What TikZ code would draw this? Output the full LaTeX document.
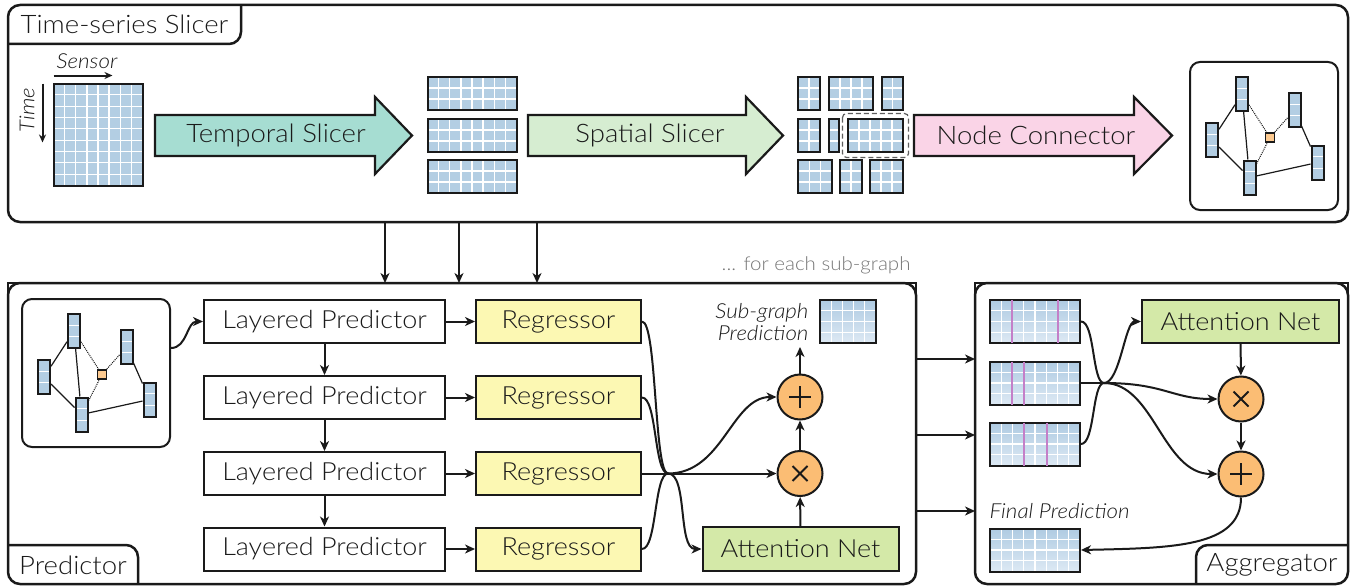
\documentclass[tikz,border=0pt]{standalone}
\usepackage{fontspec}
\setmainfont{Lato}[UprightFont={* Light},ItalicFont={* Light Italic},FakeStretch=1.08]
\usetikzlibrary{arrows.meta,calc}

\definecolor{ink}{HTML}{1A1A1A}
\definecolor{cellblue}{HTML}{B3CEE3}
\definecolor{celltop}{HTML}{AFCBE2}
\definecolor{cellbot}{HTML}{DDE9F4}
\definecolor{tealarrow}{HTML}{A6DDD2}
\definecolor{greenarrow}{HTML}{D6EDD1}
\definecolor{pinkarrow}{HTML}{FAD4E7}
\definecolor{regfill}{HTML}{FCF8B3}
\definecolor{attfill}{HTML}{D4E9A8}
\definecolor{opfill}{HTML}{FBBD74}
\definecolor{hubfill}{HTML}{FDCA90}
\definecolor{marker}{HTML}{C47FC8}
\definecolor{note}{HTML}{777777}

\tikzset{
  txt/.style={font=\fontsize{25}{29}\selectfont, text=ink},
  title/.style={font=\fontsize{25.5}{29}\selectfont, text=ink},
  side/.style={font=\fontsize{20.7}{23}\selectfont\itshape, text=ink},
  frame/.style={draw=ink, line width=2.5, outer sep=0},
  block/.style={draw=ink, line width=2, inner sep=0, minimum height=43, txt},
  conn/.style={draw=ink, line width=2, -{Stealth[length=10pt,width=9pt,inset=3pt]}},
  wire/.style={draw=ink, line width=2},
  cells/.style n args={2}{draw=ink, line width=2, inner sep=0, fill=cellblue,
    path picture={
      \ifnum#1>0
      \foreach \k in {1,...,#1}{
        \pgfmathsetmacro\cellfrac{\k/(#1+1)}
        \draw[white, line width=1.3]
          ($(path picture bounding box.south west)!\cellfrac!(path picture bounding box.south east)$) --
          ($(path picture bounding box.north west)!\cellfrac!(path picture bounding box.north east)$);}
      \fi
      \ifnum#2>0
      \foreach \k in {1,...,#2}{
        \pgfmathsetmacro\cellfrac{\k/(#2+1)}
        \draw[white, line width=1.3]
          ($(path picture bounding box.south west)!\cellfrac!(path picture bounding box.north west)$) --
          ($(path picture bounding box.south east)!\cellfrac!(path picture bounding box.north east)$);}
      \fi
    }},
  fade/.style={top color=celltop, bottom color=cellbot},
  gnode/.style={cells={0}{2}, minimum width=12, minimum height=34},
  hub/.style={draw=ink, line width=1.5, fill=hubfill, minimum size=9, inner sep=0},
  op/.style={circle, draw=ink, line width=2, fill=opfill, minimum size=45, inner sep=0},
}

% a small graph of sensor nodes inside a rounded box
\newcommand\subgraph[3]{%
  \node[rounded corners=10, draw=ink, line width=2, minimum width=148, minimum height=148, inner sep=0] (#3box) at (#1+74,#2+74) {};
  \node[gnode] (#3a) at (#1+52,#2+32) {};
  \node[gnode] (#3b) at (#1+22,#2+78) {};
  \node[gnode] (#3c) at (#1+59.5,#2+115.5) {};
  \node[gnode] (#3d) at (#1+104.5,#2+48) {};
  \node[gnode] (#3e) at (#1+127.5,#2+100.5) {};
  \node[hub] (#3h) at (#1+80,#2+75.5) {};
  \draw[line width=1.2, ink] (#3a) -- (#3b) (#3a) -- (#3c) (#3b) -- (#3c) (#3c) -- (#3e) (#3d) -- (#3e);
  \draw[line width=1, densely dotted, ink] (#3a) -- (#3h) (#3d) -- (#3h) (#3c) -- (#3h);
}

\begin{document}
\begin{tikzpicture}[x=1pt,y=-1pt]
\useasboundingbox[fill=white] (0,0) rectangle (1356,586);

% ---------- frames and tabs ----------
\node[frame, rounded corners=12, minimum width=1340, minimum height=217, inner sep=0] (slicer) at (678,113.5) {};
\node[frame, rounded corners=12, minimum width=908, minimum height=301, inner sep=0] (pred) at (462,433.5) {};
\node[frame, rounded corners=12, minimum width=373, minimum height=301, inner sep=0] (agg) at (1161.5,433.5) {};
\draw[frame, line cap=rect] ([yshift=-20pt]pred.north west) -- (pred.north west) -- ([xshift=20pt]pred.north west);
\draw[frame, line cap=rect] ([xshift=-20pt]pred.north east) -- (pred.north east) -- ([yshift=-20pt]pred.north east);
\draw[frame, line cap=rect] ([yshift=-20pt]agg.north west) -- (agg.north west) -- ([xshift=20pt]agg.north west);
\draw[frame, line cap=rect] ([xshift=-20pt]agg.north east) -- (agg.north east) -- ([yshift=-20pt]agg.north east);

\draw[frame, rounded corners=12] (8,44) -- (241,44) -- (241,5);
\node[title] (slicertitle) at (124.5,24) {Time-series Slicer};
\draw[frame, rounded corners=12] (8,545) -- (138,545) -- (138,584);
\node[title] (predtitle) at (73,565) {Predictor};
\draw[frame, rounded corners=12] (1348,545) -- (1196,545) -- (1196,584);
\node[title] (aggtitle) at (1272,565) {Aggregator};

% ---------- slicer stage ----------
\node[cells={7}{8}, minimum width=89, minimum height=102] (sensor) at (98,134.5) {};
\node[side, anchor=base] (sensorlbl) at (87,68) {Sensor};
\draw[conn, -{Stealth[length=8pt,width=7pt,inset=2.5pt]}] ($(sensor.north west)+(1,-7)$) coordinate (sx0) -- ($(sensor.north west)+(60,-7)$) coordinate (sx1);
\node[side, rotate=90] (timelbl) at (27,110) {Time};
\draw[conn, -{Stealth[length=8pt,width=7pt,inset=2.5pt]}] ($(sensor.north west)+(-10,1)$) coordinate (ty0) -- ($(sensor.north west)+(-10,60)$) coordinate (ty1);

\filldraw[fill=tealarrow, draw=ink, line width=2.2] (155,115) -- (375,115) -- (375,97) -- (412,135.5) -- (375,174) -- (375,156) -- (155,156) -- cycle;
\node[title] (temporal) at (276,135) {Temporal Slicer};

\node[cells={7}{2}, minimum width=89, minimum height=33] (ts1) at (472,93.5) {};
\node[cells={7}{2}, minimum width=89, minimum height=33] (ts2) at (472,135.5) {};
\node[cells={7}{2}, minimum width=89, minimum height=33] (ts3) at (472,176.5) {};

\filldraw[fill=greenarrow, draw=ink, line width=2.2] (528,115) -- (746,115) -- (746,97) -- (783,135.5) -- (746,174) -- (746,156) -- (528,156) -- cycle;
\node[title] (spatial) at (650,135) {Spatial Slicer};

\node[cells={1}{2}, minimum width=22, minimum height=33] (s11) at (809,93.5) {};
\node[cells={3}{2}, minimum width=44, minimum height=33] (s12) at (851,93.5) {};
\node[cells={1}{2}, minimum width=21, minimum height=33] (s13) at (892.5,93.5) {};
\node[cells={1}{2}, minimum width=22, minimum height=33] (s21) at (809,135.5) {};
\node[cells={0}{2}, minimum width=10, minimum height=33] (s22) at (834,135.5) {};
\node[cells={4}{2}, minimum width=55, minimum height=33] (s23) at (875.5,135.5) {};
\node[cells={2}{2}, minimum width=34, minimum height=33] (s31) at (815,176.5) {};
\node[cells={1}{2}, minimum width=22, minimum height=33] (s32) at (851,176.5) {};
\node[cells={2}{2}, minimum width=33, minimum height=33] (s33) at (886.5,176.5) {};
\draw[dashed, dash pattern=on 5pt off 3pt, line width=1.2, rounded corners=4, ink!70]
  ($(s23.north west)+(-4.5,-4.5)$) rectangle ($(s23.south east)+(4.5,4.5)$);

\filldraw[fill=pinkarrow, draw=ink, line width=2.2] (914,115) -- (1134,115) -- (1134,97) -- (1172,135.5) -- (1134,174) -- (1134,156) -- (914,156) -- cycle;
\node[title] (connector) at (1036,135) {Node Connector};

\subgraph{1190}{62}{t}

% ---------- from slicer to predictor ----------
\draw[conn] (385,0 |- slicer.south) -- (385,0 |- pred.north);
\draw[conn] (459,0 |- slicer.south) -- (459,0 |- pred.north);
\draw[conn] (537,0 |- slicer.south) -- (537,0 |- pred.north);
\node[font=\fontsize{19}{22}\selectfont, text=note, anchor=east] (foreach) at (914,265) {... for each sub-graph};

% ---------- predictor ----------
\subgraph{22}{299}{p}

\node[block, minimum width=241] (lp1) at (324.5,321.5) {Layered Predictor};
\node[block, minimum width=241] (lp2) at (324.5,397.5) {Layered Predictor};
\node[block, minimum width=241] (lp3) at (324.5,473.5) {Layered Predictor};
\node[block, minimum width=241] (lp4) at (324.5,549) {Layered Predictor};
\node[block, fill=regfill, minimum width=165] (rg1) at (558.5,321.5) {Regressor};
\node[block, fill=regfill, minimum width=165] (rg2) at (558.5,397.5) {Regressor};
\node[block, fill=regfill, minimum width=165] (rg3) at (558.5,473.5) {Regressor};
\node[block, fill=regfill, minimum width=165] (rg4) at (558.5,549) {Regressor};
\node[block, fill=attfill, minimum width=196, minimum height=44] (att) at (800.5,549) {Attention Net};
\node[op] (plus) at (800,397) {};
\node[op] (times) at (800,473.5) {};
\draw[line width=2, ink] (plus.center) +(-11,0) -- +(11,0) +(0,-11) -- +(0,11);
\draw[line width=2, ink] (times.center) +(-7.5,-7.5) -- +(7.5,7.5) +(-7.5,7.5) -- +(7.5,-7.5);
\node[cells={4}{3}, fade, minimum width=56, minimum height=43] (subpred) at (848,321.5) {};
\node[side, align=right, anchor=east, font=\fontsize{20.7}{22}\selectfont\itshape] (subpredlbl) at (812,322) {Sub-graph\\Prediction};

\draw[conn] ([yshift=25pt]pbox.east) to[out=0,in=180] (lp1.west);
\draw[conn] (lp1) -- (lp2);
\draw[conn] (lp2) -- (lp3);
\draw[conn] (lp3) -- (lp4);
\draw[conn] (lp1) -- (rg1);
\draw[conn] (lp2) -- (rg2);
\draw[conn] (lp3) -- (rg3);
\draw[conn] (lp4) -- (rg4);

\coordinate (mp) at (668,473.5);
\draw[wire] (rg1.east) .. controls +(15,0) and +(-14,0) .. (mp);
\draw[wire] (rg2.east) .. controls +(15,0) and +(-14,0) .. (mp);
\draw[wire] (rg4.east) .. controls +(15,0) and +(-14,0) .. (mp);
\draw[conn] (rg3.east) -- (times.west);
\draw[conn] (mp) .. controls +(55,0) and +(-45,0) .. (plus.west);
\draw[conn] (mp) .. controls +(20,0) and +(-24,0) .. (att.west);
\draw[conn] (att) -- (times);
\draw[conn] (times) -- (plus);
\coordinate (spout) at (800,347);
\draw[conn] (plus.north) -- (spout);

% ---------- from predictor to aggregator ----------
\draw[conn] (pred.east |- 0,359) -- (agg.west |- 0,359);
\draw[conn] (pred.east |- 0,435) -- (agg.west |- 0,435);
\draw[conn] (pred.east |- 0,511) -- (agg.west |- 0,511);

% ---------- aggregator ----------
\node[cells={7}{3}, fade, minimum width=90, minimum height=43] (ag1) at (1035,321.5) {};
\node[cells={7}{3}, fade, minimum width=90, minimum height=43] (ag2) at (1035,383) {};
\node[cells={7}{3}, fade, minimum width=90, minimum height=43] (ag3) at (1035,444) {};
\node[cells={7}{3}, fade, minimum width=90, minimum height=43] (final) at (1035,550) {};
\foreach \g/\u/\v in {ag1/0.25/0.75, ag2/0.25/0.375, ag3/0.375/0.625}{
  \draw[marker, line width=2] ($(\g.north west)!\u!(\g.north east)+(0,1)$) -- ($(\g.south west)!\u!(\g.south east)+(0,-1)$);
  \draw[marker, line width=2] ($(\g.north west)!\v!(\g.north east)+(0,1)$) -- ($(\g.south west)!\v!(\g.south east)+(0,-1)$);
}
\node[side, anchor=west] (finallbl) at (986,511) {Final Prediction};

\node[block, fill=attfill, minimum width=197] (att2) at (1240.5,321.5) {Attention Net};
\node[op] (times2) at (1241,399) {};
\node[op] (plus2) at (1241,474) {};
\draw[line width=2, ink] (plus2.center) +(-11,0) -- +(11,0) +(0,-11) -- +(0,11);
\draw[line width=2, ink] (times2.center) +(-7.5,-7.5) -- +(7.5,7.5) +(-7.5,7.5) -- +(7.5,-7.5);

\coordinate (ma) at (1104,383);
\draw[wire] (ag1.east) .. controls +(14,0) and +(-12,0) .. (ma);
\draw[wire] (ag2.east) -- (ma);
\draw[wire] (ag3.east) .. controls +(14,0) and +(-12,0) .. (ma);
\draw[conn] (ma) .. controls +(16,0) and +(-16,0) .. (att2.west);
\draw[conn] (ma) .. controls +(60,0) and +(-45,0) .. (times2.west);
\draw[conn] (ma) .. controls +(50,0) and +(-55,0) .. (plus2.west);
\draw[conn] (att2) -- (times2);
\draw[conn] (times2) -- (plus2);
\draw[conn] (plus2.south) .. controls +(0,50) and +(90,-2) .. (final.east);
\end{tikzpicture}
\end{document}
